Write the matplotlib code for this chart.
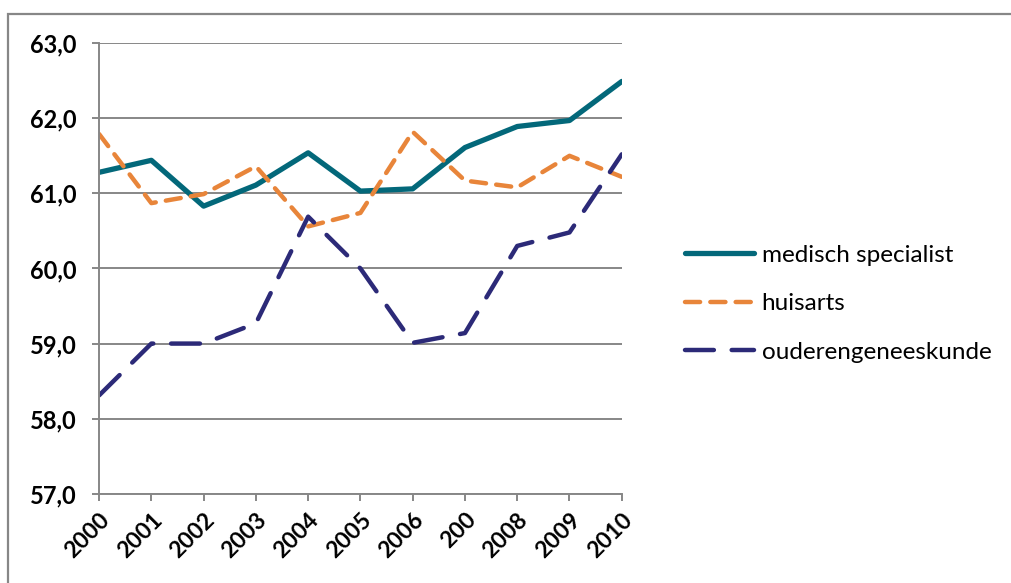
import matplotlib.pyplot as plt
from matplotlib.patches import Rectangle

# jaren en labels (2007 staat afgekapt als "200" in het origineel)
years = list(range(2000, 2011))
year_labels = ["2000", "2001", "2002", "2003", "2004", "2005",
               "2006", "200", "2008", "2009", "2010"]

medisch_specialist = [61.28, 61.44, 60.83, 61.11, 61.54, 61.03, 61.06, 61.61, 61.89, 61.97, 62.49]
huisarts = [61.79, 60.87, 60.99, 61.36, 60.56, 60.74, 61.82, 61.17, 61.08, 61.50, 61.22]
ouderengeneeskunde = [58.31, 59.00, 59.00, 59.27, 60.69, 60.00, 59.01, 59.14, 60.30, 60.48, 61.52]

y_ticks = [57.0, 58.0, 59.0, 60.0, 61.0, 62.0, 63.0]

plt.rcParams['font.family'] = ['Lato', 'DejaVu Sans']

fig = plt.figure(figsize=(10.11, 5.83), dpi=100)
ax = fig.add_axes([0.098, 0.153, 0.517, 0.773])

ax.plot(years, medisch_specialist, color='#03687a', linewidth=3.8,
        solid_capstyle='round', label='medisch specialist')
ax.plot(years, huisarts, color='#e8853a', linewidth=3.2,
        dashes=(3.4, 2.3), dash_capstyle='round', label='huisarts')
ax.plot(years, ouderengeneeskunde, color='#2c2a78', linewidth=3.2,
        dashes=(6.5, 4.0), dash_capstyle='round', label='ouderengeneeskunde')

ax.set_xlim(2000, 2010)
ax.set_ylim(57, 63)
ax.set_yticks(y_ticks)
ax.set_yticklabels([f"{v:.1f}".replace('.', ',') for v in y_ticks],
                   fontsize=17, fontweight='bold')
ax.set_xticks(years)
ax.set_xticklabels(year_labels, fontsize=16.5, fontweight='bold',
                   rotation=45, ha='right', rotation_mode='anchor')

ax.grid(axis='y', color='#878787', linewidth=1.4)
ax.set_axisbelow(True)
for side in ['top', 'right']:
    ax.spines[side].set_visible(False)
for side in ['left', 'bottom']:
    ax.spines[side].set_color('#878787')
    ax.spines[side].set_linewidth(1.4)
ax.tick_params(axis='both', color='#878787', width=1.4, length=5, direction='out')
ax.tick_params(axis='y', pad=11)
ax.tick_params(axis='x', pad=6)

leg = fig.legend(loc='center left', bbox_to_anchor=(0.656, 0.479), frameon=False,
                 fontsize=17.5, handlelength=2.85, handletextpad=0.3, labelspacing=1.14)

# grijze kaderlijn rond het grafiekgebied
fig.patches.append(Rectangle((8 / 1011, -0.05), 1.1, 1 - 14 / 583 + 0.05,
                             transform=fig.transFigure, fill=False,
                             edgecolor='#878787', linewidth=1.6))

plt.savefig('out.png', dpi=100)
